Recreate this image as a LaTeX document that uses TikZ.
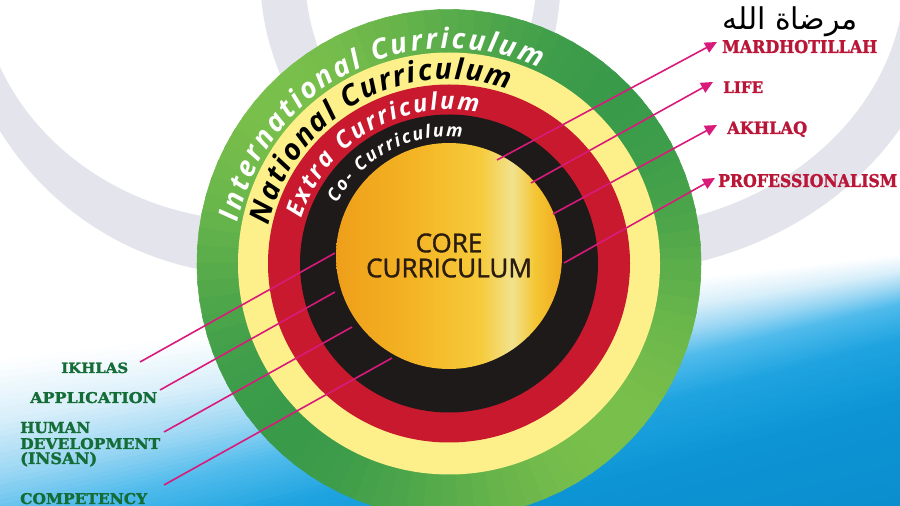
\documentclass[tikz,border=0pt]{standalone}
\usepackage{fontspec}
\usepackage{graphicx}
\usetikzlibrary{decorations.text,arrows.meta,calc}
\TeXXeTstate=1
\newfontfamily\ringfont{Open Sans}
\newfontfamily\corefont{Open Sans}[FakeBold=1.3]
\newfontfamily\slabfont{DejaVu Serif}[BoldFeatures={FakeBold=1.6}]
\newfontfamily\arabicfont[Script=Arabic]{DejaVu Sans}
\definecolor{bg0}{HTML}{FFFFFF}
\definecolor{bg1}{HTML}{D8EFFA}
\definecolor{bg2}{HTML}{9AD6F3}
\definecolor{bg3}{HTML}{4FBBEC}
\definecolor{bg4}{HTML}{1FA4E0}
\definecolor{bg5}{HTML}{0D95D5}
\definecolor{bg6}{HTML}{0A8ACB}
\definecolor{wmgray}{HTML}{E4E4EC}
\definecolor{gdark}{HTML}{35984A}
\definecolor{glight}{HTML}{7DC14B}
\definecolor{ringyellow}{HTML}{FDF08A}
\definecolor{ringred}{HTML}{C8192F}
\definecolor{ringblack}{HTML}{1D1A19}
\definecolor{coreA}{HTML}{EE9F1A}
\definecolor{coreB}{HTML}{F4B424}
\definecolor{coreC}{HTML}{F6CB3C}
\definecolor{coreD}{HTML}{F2E28E}
\definecolor{coreE}{HTML}{F4C634}
\definecolor{coreF}{HTML}{F0AA1E}
\definecolor{coretext}{HTML}{2A1C10}
\definecolor{pinkline}{HTML}{DA1A7B}
\definecolor{lblred}{HTML}{BA1638}
\definecolor{lblgreen}{HTML}{146C36}
\pgfdeclarehorizontalshading{coreshade}{100bp}{color(0bp)=(coreA); color(25bp)=(coreA); color(42bp)=(coreB); color(57bp)=(coreC); color(64bp)=(coreD); color(69bp)=(coreE); color(75bp)=(coreF); color(100bp)=(coreF)}
\newcommand{\lblbox}[3]{\resizebox{#1pt}{#2pt}{\slabfont\bfseries #3}}
\tikzset{
  connector/.style={draw=pinkline, line width=1.6pt},
  arrowconn/.style={connector, -{Triangle[length=12pt,width=11pt]}},
  redlabel/.style={anchor=base west, inner sep=0pt, text=lblred},
  greenlabel/.style={anchor=base west, inner sep=0pt, text=lblgreen},
  ringtext/.style={decorate, decoration={text along path, text align=fit to path, text={#1}}}
}
\begin{document}
\begin{tikzpicture}[x=1pt,y=1pt]
\useasboundingbox (0,0) rectangle (900,506);
\clip (0,0) rectangle (900,506);
% background
\fill[white] (0,0) rectangle (900,506);
\foreach \la/\ra/\ca/\lb/\rb/\cb in {360/255/bg0/420/272/bg1, 420/272/bg1/475/288/bg2, 475/288/bg2/525/305/bg3, 525/305/bg3/580/340/bg4, 580/340/bg4/640/400/bg5, 640/400/bg5/760/560/bg6} {
  \foreach \j in {0,...,9} {
    \pgfmathsetmacro\ya{506-(\la+(\lb-\la)*\j/10)}
    \pgfmathsetmacro\yb{506-(\ra+(\rb-\ra)*\j/10)}
    \pgfmathsetmacro\yc{506-(\la+(\lb-\la)*(\j+1)/10)}
    \pgfmathsetmacro\yd{506-(\ra+(\rb-\ra)*(\j+1)/10)}
    \pgfmathtruncatemacro\p{\j*10+5}
    \path[fill=\cb!\p!\ca, draw=\cb!\p!\ca, line width=0.6pt] (0,\ya) -- (900,\yb) -- (900,\yd) -- (0,\yc) -- cycle;
  }
}
% watermark rings
\fill[wmgray, even odd rule] (258,534) circle[radius=303] (258,534) ellipse[x radius=279, y radius=249];
\fill[wmgray, even odd rule] (605,533) ellipse[x radius=345, y radius=300] (605,533) ellipse[x radius=300, y radius=255];
% rings
\coordinate (C) at (449,242.5);
\coordinate (CC) at (449,250);
\foreach \a in {0,4,...,356} {
  \pgfmathtruncatemacro\m{50+45*cos(2*(\a+2-45))}
  \path[fill=gdark!\m!glight, draw=gdark!\m!glight, line width=0.5pt] (C) -- +(\a:252 and 254) arc[start angle=\a, end angle=\a+5, x radius=252, y radius=254] -- cycle;
}
\fill[ringyellow] (C) ellipse[x radius=211, y radius=211];
\fill[ringred] (C) ellipse[x radius=181, y radius=179];
\fill[ringblack] (C) circle[radius=149];
\shade[shading=coreshade] (CC) circle[radius=113];
% ring texts
\path[ringtext={|\ringfont\bfseries\itshape\fontsize{28}{28}\selectfont\color{white}|International Curriculum}] ($(C)+(169:215)$) arc[start angle=169, end angle=65, radius=215];
\path[ringtext={|\ringfont\bfseries\itshape\fontsize{29}{29}\selectfont\color{black}|National Curriculum}] ($(C)+(168:184)$) arc[start angle=168, end angle=71, radius=184];
\path[ringtext={|\ringfont\bfseries\itshape\fontsize{24}{24}\selectfont\color{white}|Extra Curriculum}] ($(C)+(163:154)$) arc[start angle=163, end angle=79, radius=154];
\path[ringtext={|\ringfont\bfseries\itshape\fontsize{18}{18}\selectfont\color{white}|Co- Curriculum}] ($(C)+(152:127)$) arc[start angle=152, end angle=84, radius=127];
% core text
\node[align=center, text=coretext, font=\corefont\fontsize{26}{25}\selectfont, inner sep=0pt] (core) at (449,250.5) {CORE\\CURRICULUM};
% arabic
\node[inner sep=0pt] (arab) at (790,484) {\arabicfont\fontsize{30}{30}\selectfont\beginR مرضاة الله\endR};
% right labels
\node[redlabel] (mard) at (722,453) {\lblbox{155}{13}{MARDHOTILLAH}};
\node[redlabel] (life) at (723,413) {\lblbox{40}{11.5}{LIFE}};
\node[redlabel] (akh) at (727,372) {\lblbox{80}{12.5}{AKHLAQ}};
\node[redlabel] (prof) at (718,319) {\lblbox{179}{13}{PROFESSIONALISM}};
% left labels
\node[greenlabel] (ikh) at (61,133) {\lblbox{67}{10.5}{IKHLAS}};
\node[greenlabel] (app) at (30,103) {\lblbox{127}{11}{APPLICATION}};
\node[greenlabel] (hum) at (20,73) {\lblbox{70}{11}{HUMAN}};
\node[greenlabel] (dev) at (20,57) {\lblbox{140}{11}{DEVELOPMENT}};
\node[greenlabel] (ins) at (20,42) {\lblbox{77}{12}{(INSAN)}};
\node[greenlabel] (comp) at (20,2) {\lblbox{127}{11}{COMPETENCY}};
% connector points
\coordinate (r1) at (497,346); \coordinate (t1) at (717,464);
\coordinate (r2) at (531,323); \coordinate (t2) at (713,424);
\coordinate (r3) at (553,292); \coordinate (t3) at (717,381);
\coordinate (r4) at (564,243); \coordinate (t4) at (715,328);
\coordinate (i1) at (335,253); \coordinate (o1) at (140,144);
\coordinate (i2) at (335,214); \coordinate (o2) at (160,116);
\coordinate (i3) at (352,179); \coordinate (o3) at (164,74);
\coordinate (i4) at (392,148); \coordinate (o4) at (164,21);
\draw[arrowconn] (r1) -- (t1);
\draw[arrowconn] (r2) -- (t2);
\draw[arrowconn] (r3) -- (t3);
\draw[arrowconn] (r4) -- (t4);
\draw[connector] (i1) -- (o1);
\draw[connector] (i2) -- (o2);
\draw[connector] (i3) -- (o3);
\draw[connector] (i4) -- (o4);
\end{tikzpicture}
\end{document}
